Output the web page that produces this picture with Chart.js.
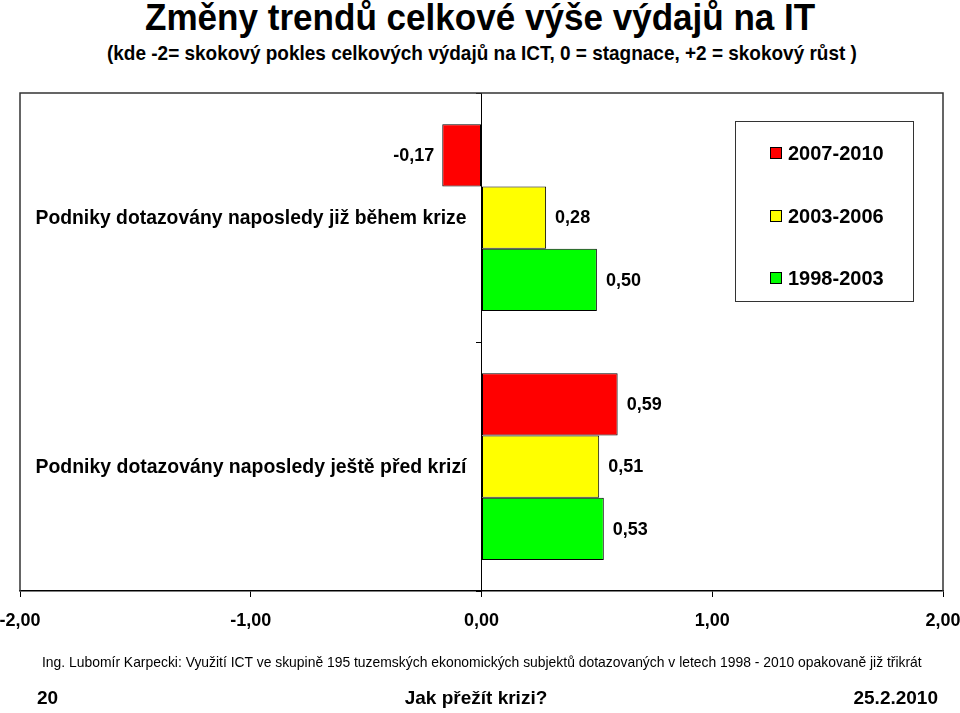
<!DOCTYPE html>
<html><head><meta charset="utf-8">
<script src="https://cdn.jsdelivr.net/npm/chart.js@4"></script>
<style>
html,body{margin:0;padding:0;background:#fff;}
body{width:960px;height:713px;overflow:hidden;position:relative;font-family:"Liberation Sans",Arial,sans-serif;color:#000;}
canvas{position:absolute;left:0;top:0;}
.t{position:absolute;white-space:nowrap;line-height:1;}
.fit{transform-origin:0 50%;}
#title{top:0px;font-size:36px;font-weight:bold;}
#subtitle{top:42px;font-size:21px;font-weight:bold;}
#footer{top:654px;font-size:15px;}
.bot{top:688px;font-size:19px;font-weight:bold;}
#legend{position:absolute;left:735px;top:121px;width:179px;height:181px;border:1.5px solid #333;box-sizing:border-box;}
.li{position:absolute;left:34px;height:22px;display:flex;align-items:center;font-size:20px;font-weight:bold;}
.sw{width:10px;height:10px;border:1px solid #000;margin-right:6px;}
</style></head>
<body>
<div id="title" class="t fit">Změny trendů celkové výše výdajů na IT</div>
<div id="subtitle" class="t fit">(kde -2= skokový pokles celkových výdajů na ICT, 0 = stagnace, +2 = skokový růst )</div>
<canvas id="c" width="960" height="713"></canvas>
<div id="legend"></div>
<div id="footer" class="t fit">Ing. Lubomír Karpecki: Využití ICT ve skupině 195 tuzemských ekonomických subjektů dotazovaných v letech 1998 - 2010 opakovaně již třikrát</div>
<div class="t bot" style="left:37px;">20</div>
<div class="t bot" id="mid" style="left:0;width:952px;text-align:center;">Jak přežít krizi?</div>
<div class="t bot" style="right:22px;">25.2.2010</div>
<script>
// ---- data ----
const categories = ["Podniky dotazovány naposledy již během krize", "Podniky dotazovány naposledy ještě před krizí"];
const seriesNames = ["2007-2010", "2003-2006", "1998-2003"];
const series2007_2010 = [-0.17, 0.59];
const series2003_2006 = [0.28, 0.51];
const series1998_2003 = [0.50, 0.53];
const seriesColors = ["#FF0000", "#FFFF00", "#00FF00"];
const xTicks = [-2, -1, 0, 1, 2];

const seriesValues = [series2007_2010, series2003_2006, series1998_2003];
const fmt = v => v.toFixed(2).replace('.', ',');

// fit text blocks to the reference widths
function fit(id, left, width){
  const el = document.getElementById(id);
  const w = el.scrollWidth;
  el.style.left = left + 'px';
  el.style.transform = 'scaleX(' + (width / w) + ')';
}
fit('title', 145, 670);
fit('subtitle', 107, 750);
fit('footer', 42, 880);

// legend from arrays
const leg = document.getElementById('legend');
const rowTops = [20, 83, 145];
seriesNames.forEach((n, i) => {
  const d = document.createElement('div');
  d.className = 'li';
  d.style.top = rowTops[i] + 'px';
  d.innerHTML = '<span class="sw" style="background:' + seriesColors[i] + '"></span><span>' + n + '</span>';
  leg.appendChild(d);
});

const FONT = '"Liberation Sans", Arial, sans-serif';
const CAT_LABEL_WIDTH = 431;

const framePlugin = {
  id: 'frame',
  beforeDatasetsDraw(chart){
    const {ctx, chartArea: a} = chart;
    ctx.save();
    ctx.strokeStyle = '#333';
    ctx.lineWidth = 1.5;
    ctx.beginPath();
    ctx.moveTo(a.left, a.bottom);
    ctx.lineTo(a.left, a.top);
    ctx.lineTo(a.right, a.top);
    ctx.lineTo(a.right, a.bottom);
    ctx.stroke();
    ctx.restore();
  }
};

const labelPlugin = {
  id: 'labels',
  afterDatasetsDraw(chart){
    const {ctx} = chart;
    const xs = chart.scales.x, ys = chart.scales.y;
    ctx.save();
    ctx.fillStyle = '#000';
    ctx.textBaseline = 'middle';
    // value labels
    ctx.font = 'bold 18px ' + FONT;
    chart.data.datasets.forEach((ds, i) => {
      const meta = chart.getDatasetMeta(i);
      meta.data.forEach((bar, j) => {
        const v = ds.data[j];
        if (v < 0) { ctx.textAlign = 'right'; ctx.fillText(fmt(v), bar.x - 8, bar.y + 1); }
        else { ctx.textAlign = 'left'; ctx.fillText(fmt(v), bar.x + 9, bar.y + 1); }
      });
    });
    // category labels (horizontally condensed like the original)
    ctx.font = 'bold 21px ' + FONT;
    ctx.textAlign = 'right';
    const x0 = xs.getPixelForValue(0);
    categories.forEach((c, j) => {
      const w = ctx.measureText(c).width;
      const sx = CAT_LABEL_WIDTH / w;
      const xr = x0 - 15;
      ctx.save();
      ctx.translate(xr, ys.getPixelForTick(j));
      ctx.scale(sx, 1);
      ctx.fillText(c, 0, 1);
      ctx.restore();
    });
    ctx.restore();
  }
};

new Chart(document.getElementById('c'), {
  type: 'bar',
  data: {
    labels: categories,
    datasets: seriesNames.map((n, i) => ({
      label: n,
      data: seriesValues[i],
      backgroundColor: seriesColors[i],
      borderColor: '#000',
      borderWidth: 1,
      borderSkipped: false,
      categoryPercentage: 0.75,
      barPercentage: 1.0
    }))
  },
  options: {
    indexAxis: 'y',
    responsive: false,
    animation: false,
    devicePixelRatio: 1,
    layout: { padding: { left: 20, right: 17, top: 93, bottom: 77 } },
    plugins: { legend: { display: false }, tooltip: { enabled: false }, title: { display: false } },
    scales: {
      x: {
        position: 'bottom',
        min: -2, max: 2,
        afterBuildTicks: s => { s.ticks = xTicks.map(v => ({ value: v })); },
        afterFit: s => { s.height = 45; s.paddingLeft = 0; s.paddingRight = 0; },
        ticks: {
          callback: v => fmt(v),
          color: '#000',
          font: { family: FONT, size: 18, weight: 'bold' },
          padding: 13,
          maxRotation: 0,
          autoSkip: false
        },
        grid: { drawOnChartArea: false, tickLength: 6, color: '#000', tickColor: '#000' },
        border: { color: '#000', width: 1.5 }
      },
      y: {
        position: { x: 0 },
        ticks: { display: false },
        grid: { drawOnChartArea: false, tickLength: 5, color: '#000', tickColor: '#000', offset: true },
        border: { color: '#000', width: 1 }
      }
    }
  },
  plugins: [framePlugin, labelPlugin]
});
</script>
</body></html>
